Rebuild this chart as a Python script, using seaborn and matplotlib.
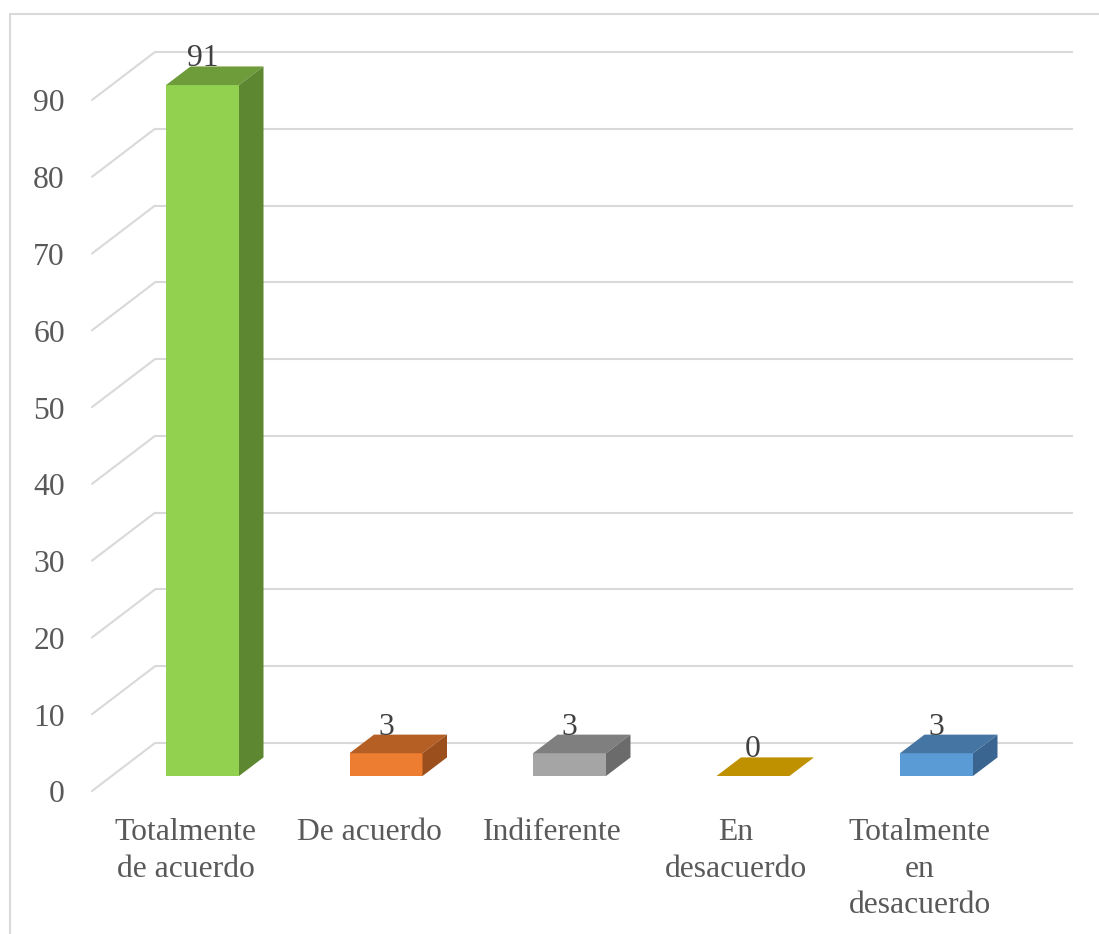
import matplotlib
matplotlib.use("Agg")
import matplotlib.pyplot as plt
import seaborn as sns
import pandas as pd
from matplotlib.patches import Polygon, Rectangle

# --- data -------------------------------------------------------------
categories = ["Totalmente\nde acuerdo", "De acuerdo", "Indiferente",
              "En\ndesacuerdo", "Totalmente\nen\ndesacuerdo"]
values = [91, 3, 3, 0, 3]
y_ticks = list(range(0, 100, 10))

front_colors = ["#92D050", "#ED7D31", "#A5A5A5", "#BF9000", "#5B9BD5"]
top_colors = ["#6E9C3A", "#B55F24", "#7F7F7F", "#BF9000", "#4576A3"]
side_colors = ["#5E8731", "#9A4F1D", "#6B6B6B", "#A07900", "#3A6591"]

# --- layout (pixel geometry of the 3-D projection) -------------------
W, H, DPI = 1099, 934, 100
X0_PX, STEP_PX = 202.5, 183.5      # first category centre, spacing
Y0_PX, UNIT_PX = 776.0, 7.593      # baseline of bar fronts, px per unit
BAR_W = 73 / STEP_PX
DEPTH_DX = 24.5 / STEP_PX          # bar depth (x units)
DEPTH_DY = 18.6 / UNIT_PX          # bar depth (value units)

WALL_Y0_PX, WALL_UNIT_PX = 743.0, 7.678
WALL_LEFT_PX, WALL_RIGHT_PX = 155.0, 1073.0
SIDE_DX_PX, SIDE_DY_PX = -63.0, 48.0


def px2x(px):
    return (px - X0_PX) / STEP_PX


def px2y(py):
    return (Y0_PX - py) / UNIT_PX


GRID = "#D9D9D9"
TEXT = "#595959"
LABEL = "#404040"
FONT = ["Liberation Serif", "DejaVu Serif"]
FS = 22.8

sns.set_theme(style="white")
plt.rcParams["font.family"] = FONT

fig = plt.figure(figsize=(W / DPI, H / DPI), dpi=DPI)
ax = fig.add_axes([0, 0, 1, 1])

df = pd.DataFrame({"categoria": categories, "valor": values})
sns.barplot(data=df, x="categoria", y="valor", hue="categoria",
            palette=front_colors, width=BAR_W, saturation=1,
            linewidth=0, legend=False, ax=ax, zorder=2)

ax.set_xlim(px2x(0), px2x(W))
ax.set_ylim(px2y(H), px2y(0))
ax.axis("off")

# back wall and side wall gridlines
for g in y_ticks:
    py = WALL_Y0_PX - WALL_UNIT_PX * g
    yb = px2y(py)
    yf = px2y(py + SIDE_DY_PX)
    ax.plot([px2x(WALL_LEFT_PX), px2x(WALL_RIGHT_PX)], [yb, yb],
            color=GRID, lw=1.5, zorder=0.5, solid_capstyle="butt")
    ax.plot([px2x(WALL_LEFT_PX + SIDE_DX_PX), px2x(WALL_LEFT_PX)], [yf, yb],
            color=GRID, lw=1.5, zorder=0.5)
    ax.text(px2x(65), px2y(py + SIDE_DY_PX + 4), f"{g}", ha="right",
            va="center", fontsize=FS, color=TEXT)

# top and side faces of each bar, plus value labels
for i, bar in enumerate(ax.patches):
    x0 = bar.get_x()
    w = bar.get_width()
    h = bar.get_height()
    x1 = x0 + w
    top = Polygon([(x0, h), (x1, h), (x1 + DEPTH_DX, h + DEPTH_DY),
                   (x0 + DEPTH_DX, h + DEPTH_DY)], closed=True,
                  facecolor=top_colors[i], edgecolor="none", zorder=2.1)
    side = Polygon([(x1, 0), (x1, h), (x1 + DEPTH_DX, h + DEPTH_DY),
                    (x1 + DEPTH_DX, DEPTH_DY)], closed=True,
                   facecolor=side_colors[i], edgecolor="none", zorder=2.1)
    ax.add_patch(top)
    ax.add_patch(side)
    ax.text(x0 + w / 2, h + DEPTH_DY, f"{values[i]}", ha="center",
            va="baseline", fontsize=FS, color=LABEL, zorder=3)

# category labels along the floor edge
for i, cat in enumerate(categories):
    ax.text(i - 17 / STEP_PX, px2y(818), cat, ha="center", va="top",
            fontsize=FS, color=TEXT, linespacing=1.35)

# chart area border
fig.add_artist(Rectangle((10 / W, -0.1), 1.2, (H - 14) / H + 0.1,
                         transform=fig.transFigure, fill=False,
                         edgecolor=GRID, lw=1.5))

fig.savefig("out.png", dpi=DPI)
